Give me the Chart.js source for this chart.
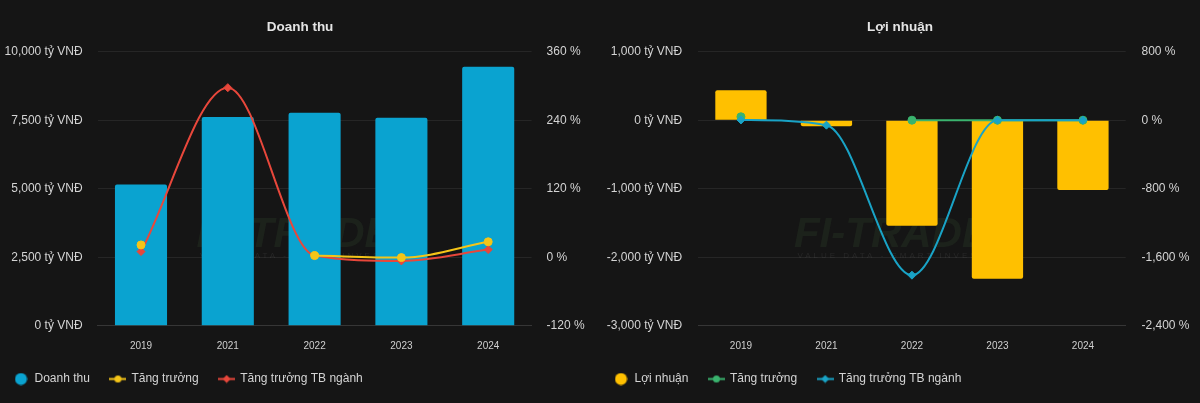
<!DOCTYPE html>
<html><head><meta charset="utf-8">
<script src="https://cdn.jsdelivr.net/npm/chart.js@4.4.1/dist/chart.umd.min.js"></script>
<style>
html,body{margin:0;padding:0;background:#151515;width:1200px;height:403px;overflow:hidden;}
.box{position:absolute;top:0;width:614px;height:395px;}
#b1{left:-7px;} #b2{left:593px;}
</style></head><body>
<div class="box" id="b1"><canvas id="c1" width="614" height="395"></canvas></div>
<div class="box" id="b2"><canvas id="c2" width="614" height="395"></canvas></div>
<script>
// ---- data ----
const categories = ['2019', '2021', '2022', '2023', '2024'];
const revenue = [5150, 7620, 7770, 7590, 9450];
const revenueGrowth = [21.5, null, 2.8, -0.7, 27];
const revenueIndustryGrowth = [9.8, 297, 2.8, -6.5, 13.3];
const profit = [437, -87, -1540, -2315, -1019];
const profitGrowth = [40, null, 0, 0, 0];
const profitIndustryGrowth = [3, -58, -1810, 0, 0];
const revenueAxis = [0, 10000, 2500];       // min, max, step (tỷ VNĐ)
const revenuePctAxis = [-120, 360, 120];    // min, max, step (%)
const profitAxis = [-3000, 1000, 1000];
const profitPctAxis = [-2400, 800, 800];
const titles = ['Doanh thu', 'Lợi nhuận'];
const legendNames = [['Doanh thu', 'Tăng trưởng', 'Tăng trưởng TB ngành'], ['Lợi nhuận', 'Tăng trưởng', 'Tăng trưởng TB ngành']];

const FONT = '"Liberation Sans", Arial, Helvetica, sans-serif';
Chart.defaults.font.family = FONT;
Chart.defaults.color = '#d2d2d2';

function marker(color, style) {
  const c = document.createElement('canvas');
  if (style === 'bar') {
    c.width = 13; c.height = 13;
    const g = c.getContext('2d');
    g.fillStyle = color; g.beginPath(); g.arc(6.5, 6.5, 6, 0, Math.PI * 2); g.fill();
    return c;
  }
  c.width = 17; c.height = 9;
  const g = c.getContext('2d');
  g.strokeStyle = color; g.lineWidth = 2;
  g.beginPath(); g.moveTo(0, 4.5); g.lineTo(17, 4.5); g.stroke();
  g.fillStyle = color; g.beginPath();
  if (style === 'circle') { g.arc(8.5, 4.5, 3.5, 0, Math.PI * 2); }
  else { g.moveTo(8.5, 0.5); g.lineTo(12.5, 4.5); g.lineTo(8.5, 8.5); g.lineTo(4.5, 4.5); g.closePath(); }
  g.fill();
  return c;
}

const watermark = {
  id: 'wm',
  beforeDatasetsDraw(chart) {
    const {ctx, chartArea: a} = chart;
    ctx.save();
    const cx = (a.left + a.right) / 2 - 20, cy = a.top + a.height * 0.67;
    ctx.font = 'italic bold 42px ' + FONT;
    ctx.fillStyle = 'rgba(70,105,60,0.16)';
    ctx.textAlign = 'center'; ctx.textBaseline = 'middle';
    ctx.fillText('FI-TRADE', cx, cy);
    ctx.font = '8px ' + FONT;
    ctx.letterSpacing = '3px';
    ctx.fillStyle = 'rgba(130,130,130,0.16)';
    ctx.fillText('VALUE DATA - SMART INVEST', cx, cy + 21);
    ctx.restore();
  }
};

function makeChart(id, cfg) {
  const styles = ['bar', 'circle', 'diamond'];
  return new Chart(document.getElementById(id), {
    type: 'bar',
    data: {
      labels: categories,
      datasets: [
        { type: 'bar', label: cfg.names[0], data: cfg.bars, backgroundColor: cfg.barColor, yAxisID: 'y',
          barPercentage: 0.75, categoryPercentage: 0.8, borderRadius: 2, order: 3 },
        { type: 'line', label: cfg.names[1], data: cfg.growth, yAxisID: 'y1', borderColor: cfg.gColor,
          backgroundColor: cfg.gColor, borderWidth: 2, cubicInterpolationMode: 'monotone', pointStyle: 'circle', pointRadius: 4,
          pointBorderWidth: 1, order: cfg.gOrder },
        { type: 'line', label: cfg.names[2], data: cfg.industry, yAxisID: 'y1', borderColor: cfg.iColor,
          backgroundColor: cfg.iColor, borderWidth: 2, cubicInterpolationMode: 'monotone', pointStyle: 'rectRot', pointRadius: 4,
          pointBorderWidth: 1, order: cfg.iOrder }
      ]
    },
    options: {
      responsive: false,
      animation: false,
      layout: { padding: 0 },
      plugins: {
        title: { display: true, text: cfg.title, color: '#e4e4e4', font: { size: 13.5, weight: 'bold' },
          padding: { top: 19, bottom: 16.5 } },
        tooltip: { enabled: false },
        legend: {
          position: 'bottom', align: 'start',
          labels: {
            usePointStyle: true, pointStyleWidth: 15, boxHeight: 12, padding: 20.5,
            color: '#d4d4d4', font: { size: 12 },
            generateLabels(chart) {
              return chart.data.datasets.map((d, i) => ({
                text: d.label, fontColor: '#d4d4d4', hidden: false, datasetIndex: i,
                pointStyle: marker(i === 0 ? d.backgroundColor : d.borderColor, styles[i]),
                fillStyle: 'transparent', strokeStyle: 'transparent', lineWidth: 0
              }));
            }
          }
        }
      },
      scales: {
        x: {
          grid: { display: false, drawTicks: false },
          border: { display: true, color: '#363636' },
          ticks: { color: '#cfcfcf', font: { size: 10 }, padding: 15 },
          afterFit(s) { s.height = 26.8; }
        },
        y: {
          position: 'left', min: cfg.yAxis[0], max: cfg.yAxis[1],
          grid: { color: '#262626', drawTicks: false },
          border: { display: false },
          ticks: { stepSize: cfg.yAxis[2], padding: cfg.lPad, color: '#d4d4d4', font: { size: 12 },
            callback: v => v.toLocaleString('en-US') + ' tỷ VNĐ' },
          afterFit(s) { s.width = cfg.lWidth; }
        },
        y1: {
          position: 'right', min: cfg.pAxis[0], max: cfg.pAxis[1],
          grid: { display: false, drawTicks: false },
          border: { display: false },
          ticks: { stepSize: cfg.pAxis[2], padding: cfg.rPad, color: '#d4d4d4', font: { size: 12 },
            callback: v => v.toLocaleString('en-US') + ' %' },
          afterFit(s) { s.width = cfg.rWidth; }
        }
      }
    },
    plugins: [watermark]
  });
}

makeChart('c1', {
  title: titles[0], names: legendNames[0], bars: revenue, growth: revenueGrowth, industry: revenueIndustryGrowth,
  barColor: '#0aa3d0', gColor: '#f5c518', iColor: '#e8473b', gOrder: 0, iOrder: 1,
  yAxis: revenueAxis, pAxis: revenuePctAxis, lWidth: 104.6, rWidth: 75.4, lPad: 15, rPad: 15
});
makeChart('c2', {
  title: titles[1], names: legendNames[1], bars: profit, growth: profitGrowth, industry: profitIndustryGrowth,
  barColor: '#ffc000', gColor: '#3ab36e', iColor: '#19a3c6', gOrder: 1, iOrder: 0,
  yAxis: profitAxis, pAxis: profitPctAxis, lWidth: 105.2, rWidth: 81.3, lPad: 16, rPad: 15.8
});
</script>
</body></html>
